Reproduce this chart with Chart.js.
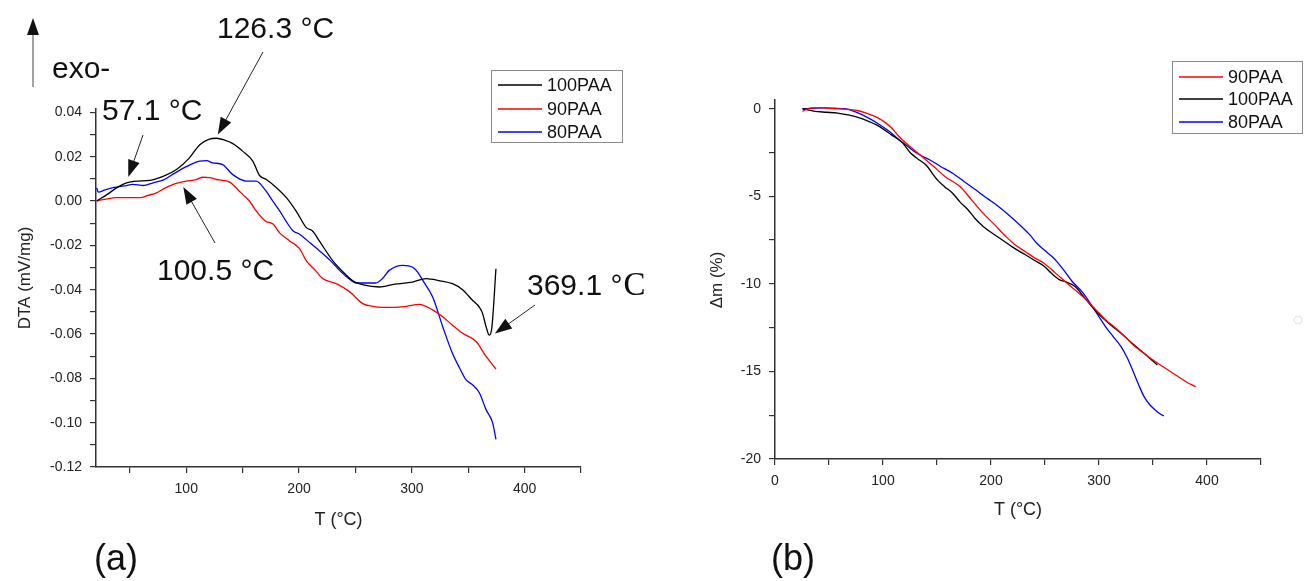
<!DOCTYPE html>
<html>
<head>
<meta charset="utf-8">
<script src="https://cdn.jsdelivr.net/npm/chart.js@4/dist/chart.umd.min.js"></script>
<style>
  body { margin: 0; background: #fff; }
  #wrap { position: relative; width: 1304px; height: 581px; overflow: hidden; }
  canvas { position: absolute; top: 0; }
  #c1 { left: 0; }
  #c2 { left: 660px; }
</style>
</head>
<body>
<div id="wrap">
  <canvas id="c1" width="660" height="581"></canvas>
  <canvas id="c2" width="644" height="581"></canvas>
</div>
<script>
// (a) DTA curves, T in °C, DTA in mV/mg
const dtaT100 = [20.6,30,40,47,57,67.8,80,91.4,102,112,120,126.8,134,141,150,159,165,171,180,188.8,198,206.5,212,218,230,240,247.7,258,271,285,300.6,312.6,325,336,345,353.8,360,362.7,366,368.7,371,374.6]
const dta100 = [0,0.003,0.0065,0.0082,0.009,0.0093,0.0112,0.0142,0.019,0.0254,0.0278,0.0283,0.0275,0.026,0.0225,0.018,0.0115,0.0097,0.006,0.0015,-0.005,-0.012,-0.0135,-0.018,-0.027,-0.0325,-0.036,-0.038,-0.0388,-0.0375,-0.0366,-0.035,-0.036,-0.0373,-0.04,-0.0448,-0.048,-0.0507,-0.057,-0.0605,-0.057,-0.0306]

const dtaT90 = [20.6,30,38,50,59,66,73.7,80,88.4,100,108,115,121,126.8,132,138.6,146,150,156,162,170,177,183,191.7,200.5,206.5,214,221,233,245,256.5,265,274,285,295,306.7,318,327.4,336,345,357,365.7,374.6]
const dta90 = [0,0.001,0.0015,0.0015,0.0015,0.0025,0.0037,0.0055,0.0075,0.009,0.0095,0.0107,0.0105,0.0097,0.0093,0.0085,0.005,0.003,0,-0.0045,-0.009,-0.0104,-0.0145,-0.018,-0.0215,-0.027,-0.031,-0.035,-0.0373,-0.041,-0.0463,-0.0475,-0.048,-0.048,-0.0475,-0.0466,-0.049,-0.0522,-0.056,-0.0597,-0.0634,-0.07,-0.0758]

const dtaT80 = [20.6,22,28,35,45,52.7,62,70.6,80,88,100,112,118,123.5,132,141,153,162,170,176.7,182.8,194.6,200.5,210,218,228,236,244,250.7,260,268,274,280,292,300.8,305,309.7,318.5,327.4,336,342,348,354,360,365.7,371.6,374.6]
const dta80 = [0.006,0.004,0.005,0.006,0.0068,0.0075,0.007,0.0082,0.0095,0.012,0.0155,0.018,0.0182,0.0172,0.0165,0.012,0.009,0.009,0.005,0,-0.0045,-0.0134,-0.015,-0.019,-0.0224,-0.027,-0.0313,-0.035,-0.037,-0.037,-0.037,-0.035,-0.0313,-0.029,-0.0299,-0.032,-0.0358,-0.0433,-0.0567,-0.0687,-0.075,-0.0806,-0.083,-0.0866,-0.094,-0.1,-0.1075]

// (b) mass loss curves, Δm in %
const tgT90 = [25.5,30,37,44,55,65,76,86.5,93,100.6,108,114.8,125,136,147,157.4,171.3,182,192.6,203,213.9,222,231.5,240,249,260,270.4,284.9,296,306.2,315,323.9,332,341.6,350,359,366,373.5,381,389.5]
const tg90 = [-0.15,0,0.05,0.05,0,-0.02,-0.1,-0.29,-0.45,-0.72,-1.1,-1.58,-2.15,-2.72,-3.3,-3.87,-4.44,-5.2,-5.96,-6.6,-7.3,-7.75,-8.15,-8.5,-8.82,-9.4,-9.96,-10.72,-11.4,-12.06,-12.5,-13,-13.5,-13.96,-14.35,-14.72,-15,-15.3,-15.6,-15.87]

const tgT100 = [25.5,36.9,48,58,69,79,86,93.5,100,107.8,118.3,125.5,132,139.6,150.3,157,164.4,171,178.7,185,192.8,201,210.5,220,231.8,240,249.5,256,263.6,270,277.8,288,299,310,320.4,331,341.7,348,354]
const tg100 = [0,-0.15,-0.2,-0.25,-0.37,-0.53,-0.7,-0.91,-1.15,-1.49,-1.96,-2.53,-2.85,-3.2,-4.06,-4.45,-4.82,-5.3,-5.77,-6.25,-6.72,-7.1,-7.49,-7.9,-8.34,-8.65,-9.01,-9.4,-9.77,-9.9,-10.15,-10.9,-11.68,-12.3,-12.82,-13.4,-13.96,-14.3,-14.63]

const tgT80 = [25.5,35,44,55,65,72,79,88,97,106,114.8,122,129,136,143,153,164.4,175,185.7,196,206.9,218,228.2,236,242.4,250,256.5,262,267.2,275,285,296,306,313,320.4,326,331,337,341.7,347,352,356,360]
const tg80 = [0,0.03,0.05,0.03,0,-0.12,-0.29,-0.58,-0.91,-1.3,-1.77,-2.1,-2.44,-2.7,-2.91,-3.28,-3.68,-4.15,-4.63,-5.1,-5.58,-6.15,-6.72,-7.2,-7.68,-8.1,-8.44,-8.8,-9.2,-9.85,-10.5,-11.5,-12.44,-13,-13.58,-14.2,-14.9,-15.8,-16.44,-16.9,-17.2,-17.4,-17.54]

// ticks
const dtaXTicks = [50,100,150,200,250,300,350,400,450]
const dtaYTicks = [-0.12,-0.11,-0.1,-0.09,-0.08,-0.07,-0.06,-0.05,-0.04,-0.03,-0.02,-0.01,0,0.01,0.02,0.03,0.04]
const tgXTicks = [0,50,100,150,200,250,300,350,400,450]
const tgYTicks = [-20,-17.5,-15,-12.5,-10,-7.5,-5,-2.5,0]

Chart.defaults.font.family = "'Liberation Sans', Arial, sans-serif"
Chart.defaults.color = '#222'

const SANS = "'Liberation Sans', Arial, sans-serif"
const toXY = (xs, ys) => xs.map((x, i) => ({x: x, y: ys[i]}))

function line(label, xs, ys, color) {
  return {
    label: label,
    data: toXY(xs, ys),
    borderColor: color,
    backgroundColor: color,
    borderWidth: 1.3,
    pointRadius: 0,
    showLine: true,
    cubicInterpolationMode: 'monotone'
  }
}

function axis(min, max, ticks, labelFn, extra) {
  return Object.assign({
    type: 'linear',
    min: min,
    max: max,
    afterBuildTicks: s => { s.ticks = ticks.map(v => ({value: v})) },
    ticks: { callback: labelFn, font: {size: 14}, color: '#222', padding: 8, autoSkip: false, maxRotation: 0 },
    grid: { drawOnChartArea: false, drawTicks: true, tickLength: 6, color: '#333', lineWidth: 1.2 },
    border: { display: true, color: '#333', width: 1.5 }
  }, extra)
}

function arrow(ctx, x0, y0, x1, y1) {
  const a = Math.atan2(y1 - y0, x1 - x0)
  ctx.beginPath()
  ctx.moveTo(x0, y0)
  ctx.lineTo(x1 - 10 * Math.cos(a), y1 - 10 * Math.sin(a))
  ctx.stroke()
  ctx.beginPath()
  ctx.moveTo(x1, y1)
  ctx.lineTo(x1 - 17 * Math.cos(a) + 6 * Math.sin(a), y1 - 17 * Math.sin(a) - 6 * Math.cos(a))
  ctx.lineTo(x1 - 17 * Math.cos(a) - 6 * Math.sin(a), y1 - 17 * Math.sin(a) + 6 * Math.cos(a))
  ctx.closePath()
  ctx.fill()
}

function vtext(ctx, txt, x, y, size) {
  ctx.save()
  ctx.translate(x, y)
  ctx.rotate(-Math.PI / 2)
  ctx.font = size + 'px ' + SANS
  ctx.textAlign = 'center'
  ctx.textBaseline = 'middle'
  ctx.fillStyle = '#222'
  ctx.fillText(txt, 0, 0)
  ctx.restore()
}

function legend(ctx, x, y, w, h, entries) {
  ctx.save()
  ctx.strokeStyle = '#8a8a8a'
  ctx.lineWidth = 1
  ctx.strokeRect(x + 0.5, y + 0.5, w, h)
  ctx.font = '18px ' + SANS
  ctx.textBaseline = 'middle'
  entries.forEach(e => {
    ctx.strokeStyle = e.color
    ctx.lineWidth = 1.5
    ctx.beginPath()
    ctx.moveTo(x + 7, e.y)
    ctx.lineTo(x + 51, e.y)
    ctx.stroke()
    ctx.fillStyle = '#111'
    ctx.fillText(e.text, x + 56, e.y + 1)
  })
  ctx.restore()
}

const annoA = {
  id: 'annoA',
  afterDraw(chart) {
    const ctx = chart.ctx
    const xs = chart.scales.x, ys = chart.scales.y
    const px = (t, v) => [xs.getPixelForValue(t), ys.getPixelForValue(v)]
    ctx.save()
    vtext(ctx, 'DTA (mV/mg)', 25, 278, 17)
    ctx.fillStyle = '#111'
    ctx.strokeStyle = '#222'
    ctx.lineWidth = 1
    ctx.textBaseline = 'alphabetic'
    ctx.font = '30px ' + SANS
    ctx.fillText('exo-', 52, 78)
    ctx.fillText('126.3 °C', 217, 38)
    ctx.fillText('57.1 °C', 102, 120)
    ctx.fillText('100.5 °C', 157, 280)
    ctx.fillText('369.1 °', 527, 295)
    const w = ctx.measureText('369.1 °').width
    ctx.font = "33px 'Liberation Serif', 'Times New Roman', serif"
    ctx.fillText('C', 527 + w + 1, 295)

    ctx.strokeStyle = '#444'
    ctx.fillStyle = '#111'
    arrow(ctx, 33, 87, 33, 18)
    ctx.strokeStyle = '#222'
    let p = px(128, 0.030); arrow(ctx, 263, 52, p[0], p[1])
    p = px(48.6, 0.0108); arrow(ctx, 143, 135, p[0], p[1])
    p = px(97.4, 0.0063); arrow(ctx, 215, 243, p[0], p[1])
    p = px(373.7, -0.0598); arrow(ctx, 535, 305, p[0], p[1])

    legend(ctx, 491, 70, 131, 72, [
      {text: '100PAA', color: '#000', y: 85},
      {text: '90PAA', color: '#ff0000', y: 109},
      {text: '80PAA', color: '#0000ff', y: 132}
    ])
    ctx.fillStyle = '#111'
    ctx.font = '36px ' + SANS
    ctx.fillText('(a)', 94, 570)
    ctx.restore()
  }
}

const annoB = {
  id: 'annoB',
  afterDraw(chart) {
    const ctx = chart.ctx
    ctx.save()
    vtext(ctx, 'Δm (%)', 57, 280, 17)
    legend(ctx, 512, 61, 130, 72, [
      {text: '90PAA', color: '#ff0000', y: 77},
      {text: '100PAA', color: '#000', y: 99},
      {text: '80PAA', color: '#0000ff', y: 122}
    ])
    ctx.fillStyle = '#111'
    ctx.font = '36px ' + SANS
    ctx.fillText('(b)', 111, 570)
    ctx.strokeStyle = '#e2e2e2'
    ctx.lineWidth = 1
    ctx.beginPath()
    ctx.arc(638, 320, 4, 0, Math.PI * 2)
    ctx.stroke()
    ctx.restore()
  }
}

new Chart(document.getElementById('c1'), {
  type: 'scatter',
  data: {
    datasets: [
      line('100PAA', dtaT100, dta100, '#000000'),
      line('90PAA', dtaT90, dta90, '#ff0000'),
      line('80PAA', dtaT80, dta80, '#0000ff')
    ]
  },
  options: {
    responsive: false,
    animation: false,
    layout: { padding: { left: 0, top: 109, right: 79, bottom: 50 } },
    plugins: { legend: { display: false }, tooltip: { enabled: false } },
    scales: {
      x: axis(20, 450, dtaXTicks, v => (v % 100 === 0 ? String(v) : ''), {
        afterFit: s => { s.height = 64 },
        title: { display: true, text: 'T (°C)', font: {size: 18}, color: '#222', padding: {top: 0, bottom: 0} }
      }),
      y: axis(-0.12, 0.0415, dtaYTicks, v => (Math.round(v * 100) % 2 === 0 ? v.toFixed(2) : ''), {
        afterFit: s => { s.width = 96 }
      })
    }
  },
  plugins: [annoA]
})

new Chart(document.getElementById('c2'), {
  type: 'scatter',
  data: {
    datasets: [
      line('90PAA', tgT90, tg90, '#ff0000'),
      line('100PAA', tgT100, tg100, '#000000'),
      line('80PAA', tgT80, tg80, '#0000ff')
    ]
  },
  options: {
    responsive: false,
    animation: false,
    layout: { padding: { left: 45, top: 100, right: 43, bottom: 60 } },
    plugins: { legend: { display: false }, tooltip: { enabled: false } },
    scales: {
      x: axis(0, 450, tgXTicks, v => (v % 100 === 0 ? String(v) : ''), {
        afterFit: s => { s.height = 62 },
        title: { display: true, text: 'T (°C)', font: {size: 18}, color: '#222', padding: {top: 0, bottom: 0} }
      }),
      y: axis(-20, 0.5, tgYTicks, v => (v % 5 === 0 ? String(v) : ''), {
        afterFit: s => { s.width = 70 }
      })
    }
  },
  plugins: [annoB]
})
</script>
</body>
</html>
